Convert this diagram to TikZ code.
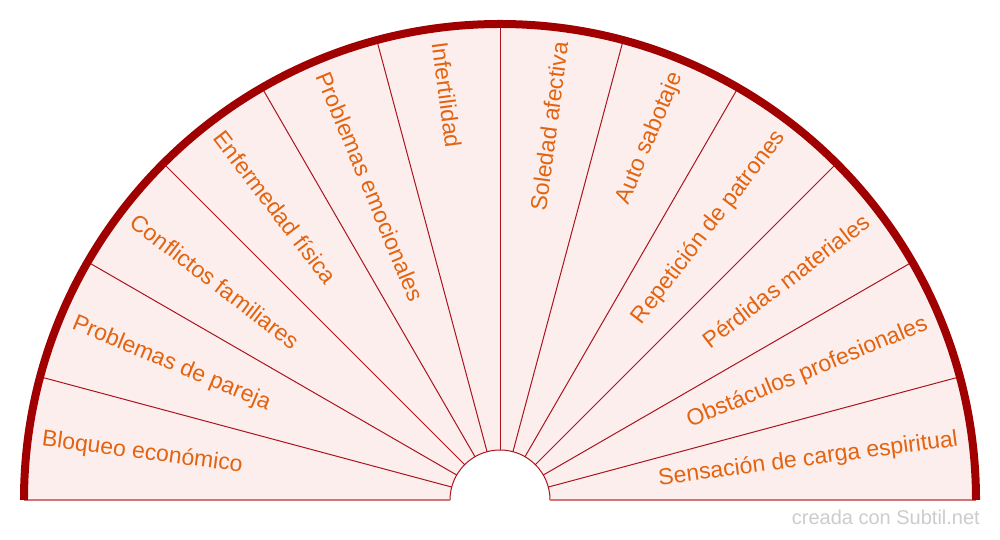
\documentclass[tikz,border=0pt]{standalone}
\usepackage{fontspec}
\setmainfont{Liberation Sans}
\usetikzlibrary{positioning}
\definecolor{rimred}{RGB}{160,0,0}
\definecolor{spokered}{RGB}{170,20,30}
\definecolor{basered}{RGB}{208,118,118}
\definecolor{sectorfill}{RGB}{253,238,238}
\definecolor{labelorange}{RGB}{226,100,16}
\definecolor{markgray}{RGB}{204,204,204}

\begin{document}
\begin{tikzpicture}[x=1pt,y=1pt,
    spoke/.style={draw=spokered,line width=1pt},
    baseline/.style={draw=basered,line width=1.5pt},
    rim/.style={draw=rimred,line width=8pt},
    leftlabel/.style={font=\fontsize{23}{27}\selectfont,
        text=labelorange, anchor=west, inner sep=0pt},
    rightlabel/.style={font=\fontsize{23}{27}\selectfont,
        text=labelorange, anchor=east, inner sep=0pt},
    watermark/.style={font=\fontsize{20}{24}\selectfont,
        text=markgray, anchor=base east, inner sep=0pt}]
    \useasboundingbox (-500,-40) rectangle (500,500);

    % background of the fan
    \fill[sectorfill] (0:50) -- (0:476) arc[start angle=0,end angle=180,radius=476]
        -- (180:50) arc[start angle=180,end angle=0,radius=50] -- cycle;
    \foreach \a in {15,30,...,165}
        \draw[spoke] (\a:50) -- (\a:476);
    \draw[spoke] (0:50) arc[start angle=0,end angle=180,radius=50];
    \draw[baseline] (-476,0) -- (-50,0);
    \draw[baseline] (50,0) -- (476,0);
    \draw[rim] (0:476) arc[start angle=0,end angle=180,radius=476];

    % labels
    \foreach \txt [count=\i] in {Bloqueo económico, Problemas de pareja,
        Conflictos familiares, Enfermedad física, Problemas emocionales,
        Infertilidad, Soledad afectiva, Auto sabotaje, Repetición de patrones,
        Pérdidas materiales, Obstáculos profesionales,
        Sensación de carga espiritual}{
        \pgfmathsetmacro\ang{187.5-15*\i}
        \ifnum\i<7
            \pgfmathsetmacro\rot{\ang-180}
            \node[leftlabel,rotate=\rot] (sec\i) at (\ang:462) {\txt};
        \else
            \node[rightlabel,rotate=\ang] (sec\i) at (\ang:462) {\txt};
        \fi
    }

    \node[watermark] (mark) at (480,-25) {creada con Subtil.net};
\end{tikzpicture}
\end{document}
